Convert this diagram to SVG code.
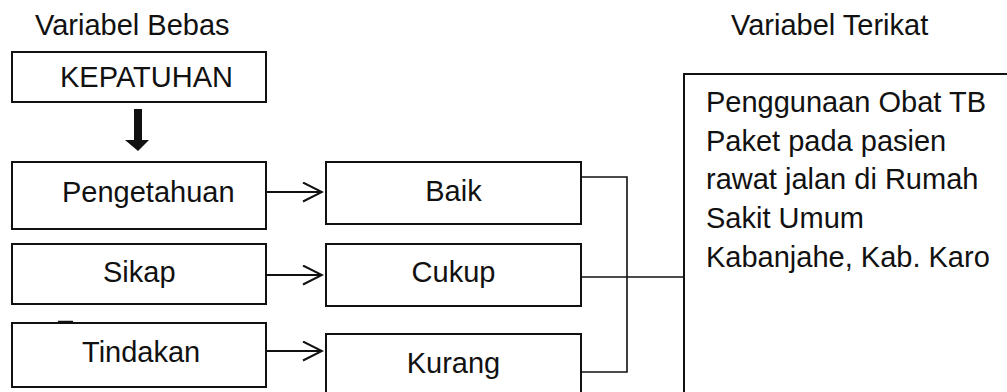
<svg xmlns="http://www.w3.org/2000/svg" width="1007" height="392" viewBox="0 0 1007 392">
  <style>
    .box { fill: #fff; stroke: #111; stroke-width: 2; }
    .lbl { font-family: "Liberation Sans", Arial, sans-serif; font-size: 29px; fill: #111; }
    .mid { text-anchor: middle; }
    .wire { fill: none; stroke: #111; stroke-width: 1.6; }
    .arr { fill: none; stroke: #111; stroke-width: 2; marker-end: url(#chev); }
  </style>
  <defs>
    <marker id="chev" markerUnits="userSpaceOnUse" markerWidth="22" markerHeight="22" refX="20" refY="10" orient="auto" viewBox="0 0 22 22">
      <path d="M1,0.5 L20,10 L1,19.5" fill="none" stroke="#111" stroke-width="2"/>
    </marker>
  </defs>
  <rect width="1007" height="392" fill="#fff"/>

  <!-- column headings -->
  <text class="lbl" x="35" y="35">Variabel Bebas</text>
  <text class="lbl" x="731" y="35">Variabel Terikat</text>

  <g id="kepatuhan">
    <rect class="box" x="12" y="52" width="254" height="50"/>
    <text class="lbl" x="60" y="87">KEPATUHAN</text>
  </g>

  <g id="pengetahuan">
    <rect class="box" x="12" y="162" width="254" height="67"/>
    <text class="lbl" x="62" y="202">Pengetahuan</text>
  </g>

  <g id="sikap">
    <rect class="box" x="12" y="244" width="254" height="60"/>
    <text class="lbl" x="103" y="282">Sikap</text>
  </g>

  <g id="tindakan">
    <rect class="box" x="12" y="323" width="254" height="64"/>
    <line x1="58" y1="321.5" x2="73" y2="321.5" stroke="#111" stroke-width="1.5"/>
    <text class="lbl" x="82" y="362">Tindakan</text>
  </g>

  <g id="baik">
    <rect class="box" x="326" y="162" width="255" height="62"/>
    <text class="lbl mid" x="453.5" y="201">Baik</text>
  </g>

  <g id="cukup">
    <rect class="box" x="326" y="244" width="255" height="62"/>
    <text class="lbl mid" x="453.5" y="282">Cukup</text>
  </g>

  <g id="kurang">
    <rect class="box" x="326" y="334" width="255" height="70"/>
    <text class="lbl mid" x="453.5" y="373">Kurang</text>
  </g>

  <g id="hasil">
    <rect class="box" x="684" y="74" width="340" height="340"/>
    <text class="lbl" x="706" y="112">Penggunaan Obat TB</text>
    <text class="lbl" x="706" y="151">Paket pada pasien</text>
    <text class="lbl" x="706" y="189">rawat jalan di Rumah</text>
    <text class="lbl" x="706" y="228">Sakit Umum</text>
    <text class="lbl" x="706" y="267">Kabanjahe, Kab. Karo</text>
  </g>

  <g id="connectors">
    <!-- block arrow below KEPATUHAN -->
    <path d="M134,109 H142 V140 H149 L138,151 L125,140 H134 Z" fill="#111"/>
    <line class="arr" x1="267" y1="192" x2="322" y2="192"/>
    <line class="arr" x1="267" y1="275" x2="322" y2="275"/>
    <line class="arr" x1="267" y1="351" x2="322" y2="351"/>
    <!-- category bracket into the dependent variable -->
    <path class="wire" d="M581,177 H627 V372 H581"/>
    <line class="wire" x1="581" y1="277" x2="684" y2="277"/>
  </g>
</svg>
